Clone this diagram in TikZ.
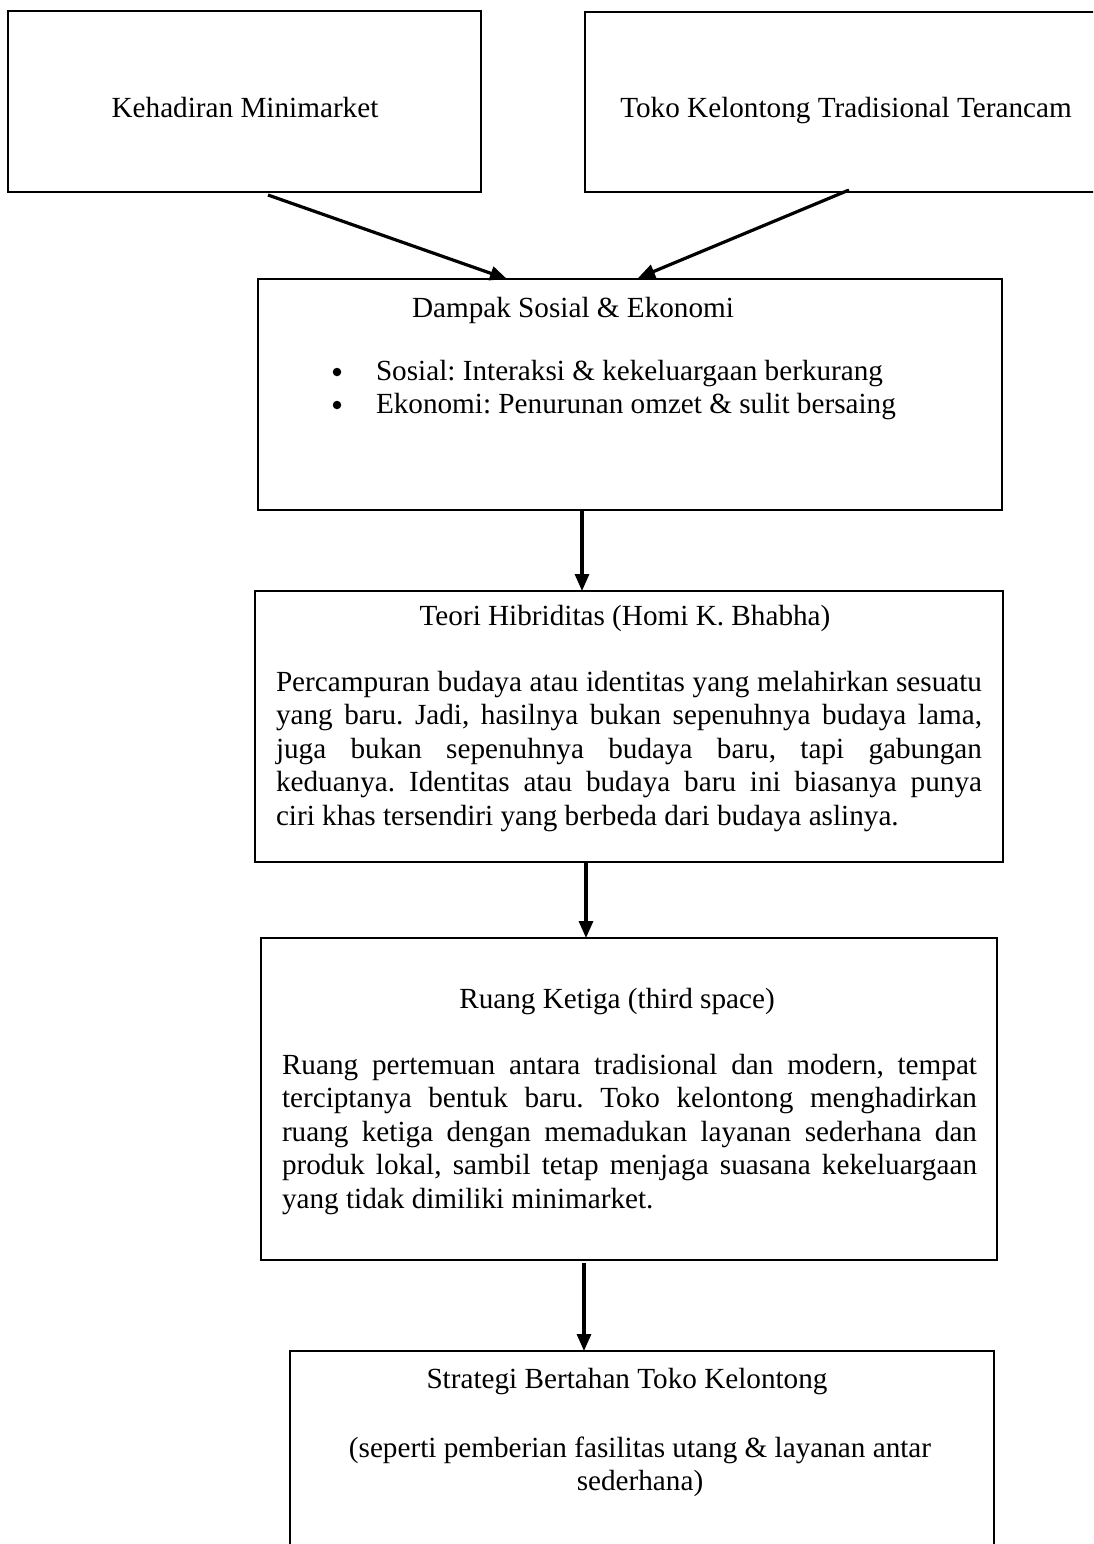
\documentclass[tikz,border=0pt]{standalone}
\usepackage{fontspec}
\setmainfont{Liberation Serif}
\frenchspacing
\usetikzlibrary{arrows.meta}
\tikzset{
  boxnode/.style={draw=black, line width=1.4pt, rectangle, inner sep=0pt, fill=none},
  txt/.style={inner sep=0pt, outer sep=0pt, font=\fontsize{29.2pt}{33.6pt}\selectfont\frenchspacing},
  bulletdot/.style={circle, fill=black, inner sep=0pt, minimum size=8.5pt},
  arr/.style={line width=3.2pt, -{Triangle[length=17pt,width=14pt]}, shorten >=0pt}
}
\newcommand{\jline}[2]{\makebox[#1][s]{#2}}
\begin{document}
\begin{tikzpicture}[x=1pt,y=-1pt]
\clip (0,0) rectangle (1093,1544);
\fill[white] (0,0) rectangle (1093,1544);

% boxes
\node[boxnode, minimum width=473pt, minimum height=181pt] (b1) at (244.5,101.5) {};
\node[boxnode, minimum width=515pt, minimum height=180pt] (b2) at (842.5,102) {};
\node[boxnode, minimum width=744pt, minimum height=231pt] (b3) at (630,394.5) {};
\node[boxnode, minimum width=748pt, minimum height=271pt] (b4) at (629,726.5) {};
\node[boxnode, minimum width=736pt, minimum height=322pt] (b5) at (629,1099) {};
\node[boxnode, minimum width=704pt, minimum height=209pt] (b6) at (642,1455.5) {};

% box 1 and 2 texts
\node[txt, anchor=base] (t1) at (245,118) {Kehadiran Minimarket};
\node[txt, anchor=base] (t2) at (846,118) {Toko Kelontong Tradisional Terancam};

% box 3
\node[txt, anchor=base west] (t3) at (412,317) {Dampak Sosial \& Ekonomi};
\node[bulletdot] (t3b1) at (337,372) {};
\node[txt, anchor=base west] (t3l1) at (376,380) {Sosial: Interaksi \& kekeluargaan berkurang};
\node[bulletdot] (t3b2) at (337,405) {};
\node[txt, anchor=base west] (t3l2) at (376,413) {Ekonomi: Penurunan omzet \& sulit bersaing};

% box 4
\node[txt, anchor=base] (t4) at (625,625) {Teori Hibriditas (Homi K. Bhabha)};
\node[txt, anchor=base west] (t4l1) at (276,691) {\jline{706pt}{Percampuran budaya atau identitas yang melahirkan sesuatu}};
\node[txt, anchor=base west] (t4l2) at (276,724.5) {\jline{706pt}{yang baru. Jadi, hasilnya bukan sepenuhnya budaya lama,}};
\node[txt, anchor=base west] (t4l3) at (276,758) {\jline{706pt}{juga bukan sepenuhnya budaya baru, tapi gabungan}};
\node[txt, anchor=base west] (t4l4) at (276,791.5) {\jline{706pt}{keduanya. Identitas atau budaya baru ini biasanya punya}};
\node[txt, anchor=base west] (t4l5) at (276,825) {ciri khas tersendiri yang berbeda dari budaya aslinya.};

% box 5
\node[txt, anchor=base] (t5) at (617,1008) {Ruang Ketiga (third space)};
\node[txt, anchor=base west] (t5l1) at (282,1074) {\jline{695pt}{Ruang pertemuan antara tradisional dan modern, tempat}};
\node[txt, anchor=base west] (t5l2) at (282,1107.6) {\jline{695pt}{terciptanya bentuk baru. Toko kelontong menghadirkan}};
\node[txt, anchor=base west] (t5l3) at (282,1141.2) {\jline{695pt}{ruang ketiga dengan memadukan layanan sederhana dan}};
\node[txt, anchor=base west] (t5l4) at (282,1174.8) {\jline{695pt}{produk lokal, sambil tetap menjaga suasana kekeluargaan}};
\node[txt, anchor=base west] (t5l5) at (282,1208.4) {yang tidak dimiliki minimarket.};

% box 6
\node[txt, anchor=base] (t6) at (627,1388) {Strategi Bertahan Toko Kelontong};
\node[txt, anchor=base] (t6l1) at (640,1457) {(seperti pemberian fasilitas utang \& layanan antar};
\node[txt, anchor=base] (t6l2) at (640,1490.6) {sederhana)};

% connectors
\coordinate (a1s) at (268,195);
\coordinate (a1e) at (507,279);
\coordinate (a2s) at (849,190);
\coordinate (a2e) at (638,278);
\coordinate (a3s) at (582,511);
\coordinate (a3e) at (582,591);
\coordinate (a4s) at (586,863);
\coordinate (a4e) at (586,938);
\coordinate (a5s) at (584,1263);
\coordinate (a5e) at (584,1351);
\draw[arr] (a1s) -- (a1e);
\draw[arr] (a2s) -- (a2e);
\draw[arr] (a3s) -- (a3e);
\draw[arr] (a4s) -- (a4e);
\draw[arr] (a5s) -- (a5e);
\end{tikzpicture}
\end{document}
